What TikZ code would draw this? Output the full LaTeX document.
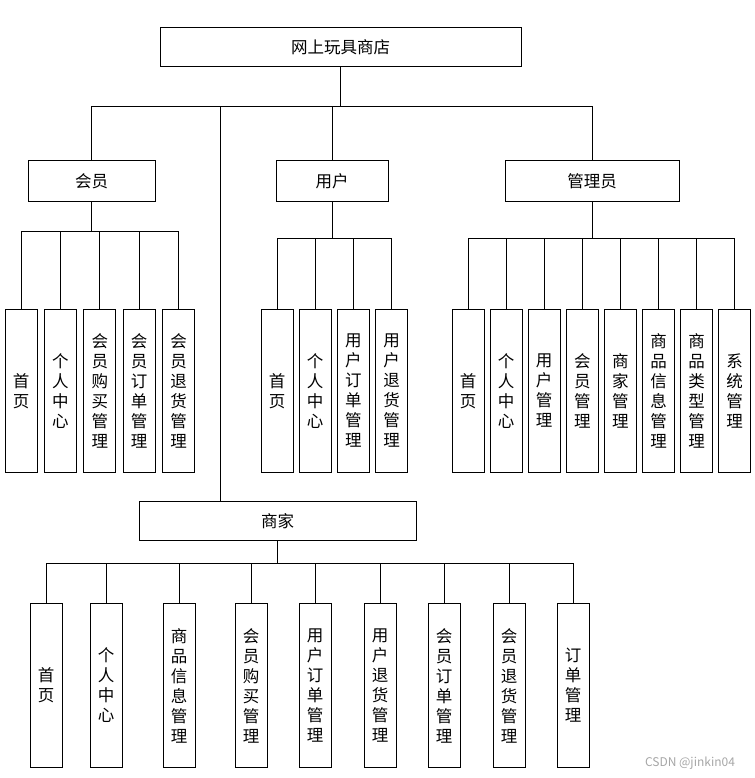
\documentclass[tikz,border=0pt]{standalone}
\usepackage{fontspec}
\setmainfont{Noto Sans CJK SC}
\begin{document}
\begin{tikzpicture}[x=1pt, y=-1pt,
  box/.style={draw, line width=1pt, inner sep=0pt, font=\fontsize{16.5}{18}\selectfont},
  leaf/.style={draw, line width=1pt, anchor=north, minimum width=32pt, minimum height=163pt, inner sep=0pt, align=center, font=\fontsize{16.5}{20}\selectfont},
  link/.style={line width=1pt}]
\useasboundingbox (0,0) rectangle (754,778);

\node (shop) [box, minimum width=361pt, minimum height=39pt] at (340.5,47.5) {网上玩具商店};
\node (hy) [box, minimum width=127pt, minimum height=40pt] at (91.5,181) {会员};
\node (yh) [box, minimum width=112pt, minimum height=40pt] at (332,181) {用户};
\node (gly) [box, minimum width=174pt, minimum height=40pt] at (592,181) {管理员};
\node (sj) [box, minimum width=277pt, minimum height=39pt] at (277.5,521) {商家};

% 会员
\foreach \i/\t in {1/{首\\页}, 2/{个\\人\\中\\心}, 3/{会\\员\\购\\买\\管\\理}, 4/{会\\员\\订\\单\\管\\理}, 5/{会\\员\\退\\货\\管\\理}}
  \node (hy\i) [leaf] at ({21+39.4*(\i-1)},309) {\t};

% 用户
\foreach \i/\t in {1/{首\\页}, 2/{个\\人\\中\\心}, 3/{用\\户\\订\\单\\管\\理}, 4/{用\\户\\退\\货\\管\\理}}
  \node (yh\i) [leaf] at ({277+38.2*(\i-1)},309) {\t};

% 管理员
\foreach \i/\t in {1/{首\\页}, 2/{个\\人\\中\\心}, 3/{用\\户\\管\\理}, 4/{会\\员\\管\\理}, 5/{商\\家\\管\\理}, 6/{商\\品\\信\\息\\管\\理}, 7/{商\\品\\类\\型\\管\\理}, 8/{系\\统\\管\\理}}
  \node (gly\i) [leaf] at ({468+38.1*(\i-1)},309) {\t};

% 商家
\foreach \i/\x/\t in {1/46/{首\\页}, 2/106/{个\\人\\中\\心}, 3/179/{商\\品\\信\\息\\管\\理}, 4/251/{会\\员\\购\\买\\管\\理}, 5/315/{用\\户\\订\\单\\管\\理}, 6/380/{用\\户\\退\\货\\管\\理}, 7/444/{会\\员\\订\\单\\管\\理}, 8/509/{会\\员\\退\\货\\管\\理}, 9/573/{订\\单\\管\\理}}
  \node (sj\i) [leaf, minimum height=164pt] at (\x,603) {\t};

\draw[link] (shop.south) -- ++(0,39) -| (hy.north);
\draw[link] (shop.south) -- ++(0,39) -| (yh.north);
\draw[link] (shop.south) -- ++(0,39) -| (gly.north);
\draw[link] (shop.south) -- ++(0,39) -| ([xshift=-57.5pt]sj.north);

\foreach \i in {1,...,5}
  \draw[link] (hy.south) -- ++(0,30) -| (hy\i.north);
\foreach \i in {1,...,4}
  \draw[link] (yh.south) -- ++(0,37) -| (yh\i.north);
\foreach \i in {1,...,8}
  \draw[link] (gly.south) -- ++(0,37) -| (gly\i.north);
\foreach \i in {1,...,9}
  \draw[link] (sj.south) -- ++(0,22) -| (sj\i.north);

\node (mark) at (690,763) [text=gray!70, font=\fontsize{12}{12}\selectfont] {CSDN @jinkin04};
\end{tikzpicture}
\end{document}
